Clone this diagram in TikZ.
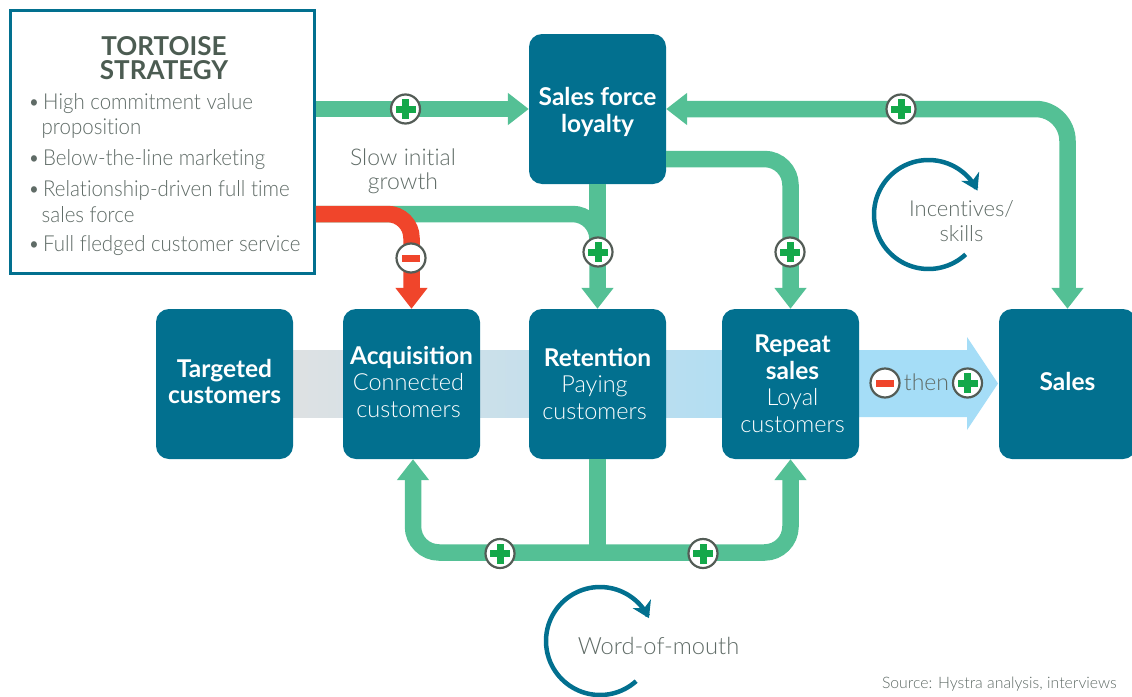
\documentclass[tikz,border=0pt]{standalone}
\usepackage{fontspec}
\setmainfont{Lato}
\newfontfamily\lightf[Ligatures=NoCommon]{Lato Light}
\newfontfamily\narrowf[Ligatures=NoCommon,FakeStretch=0.93]{Lato Light}
\usetikzlibrary{arrows.meta,shadings}
\definecolor{teal}{HTML}{02708F}
\definecolor{grn}{HTML}{54C095}
\definecolor{redc}{HTML}{F0452B}
\definecolor{plusc}{HTML}{14A84A}
\definecolor{ringc}{HTML}{535C56}
\definecolor{txt}{HTML}{5F6B66}
\definecolor{head}{HTML}{4C5C52}
\definecolor{bandl}{HTML}{DEE1E3}
\definecolor{bandr}{HTML}{A5DDF7}
\tikzset{
 box/.style={draw=none,fill=teal,rounded corners=13pt,minimum width=137pt,minimum height=150pt,inner sep=0pt,text=white,font=\fontsize{24.5}{26.5}\selectfont},
 flow/.style={line width=16.5pt,grn,rounded corners=26pt,-{Triangle[width=31pt,length=21pt]}},
 flowboth/.style={line width=16.5pt,grn,rounded corners=32pt,{Triangle[width=31pt,length=21pt]}-{Triangle[width=31pt,length=21pt]}},
 flowred/.style={line width=16.5pt,redc,rounded corners=24pt,-{Triangle[width=31pt,length=21pt]}},
 flowplain/.style={line width=16.5pt,grn},
 badge/.style={circle,draw=ringc,fill=white,line width=2.2pt,minimum size=29pt,inner sep=0pt},
 plusb/.style={badge,path picture={
   \fill[plusc] ([xshift=-10pt,yshift=-3.5pt]path picture bounding box.center) rectangle ([xshift=10pt,yshift=3.5pt]path picture bounding box.center);
   \fill[plusc] ([xshift=-3.5pt,yshift=-10pt]path picture bounding box.center) rectangle ([xshift=3.5pt,yshift=10pt]path picture bounding box.center);}},
 minusb/.style={badge,path picture={
   \fill[redc] ([xshift=-9pt,yshift=-3.5pt]path picture bounding box.center) rectangle ([xshift=9pt,yshift=3.5pt]path picture bounding box.center);}},
 lbl/.style={text=txt,align=center,inner sep=0pt,font=\lightf\fontsize{23}{24}\selectfont},
 bullet/.style={text=txt,align=left,anchor=west,inner sep=0pt,font=\narrowf\fontsize{22}{25.5}\selectfont},
 loopar/.style={teal,line width=4.5pt,-{Stealth[length=16pt,width=20pt,inset=5pt]}}
}
\newcommand{\bodyt}[1]{{\lightf\fontsize{23.5}{26.5}\selectfont #1}}
\newcommand{\bt}[3]{\raisebox{\dimexpr#2pt-6pt\relax}[0pt][0pt]{\makebox[0pt]{\hspace*{\dimexpr2\dimexpr#1pt\relax\relax}\parbox{137pt}{\centering #3}}}}
\newcommand{\dotb}{\makebox[15pt][l]{•}}
\begin{document}
\begin{tikzpicture}[x=1pt,y=-1pt]
\useasboundingbox (0,0) rectangle (1132,696);
% band
\fill[left color=bandl,right color=bandr] (293,350) rectangle (859,417);
\fill[bandr] (859,350) -- (967,350) -- (967,337) -- (998,383.5) -- (967,430) -- (967,417) -- (859,417) -- cycle;
% strategy box
\node[draw=teal,line width=2.5pt,fill=white,minimum width=304pt,minimum height=263pt,inner sep=0pt] (strat) at (162.5,142) {};
\node[text=head,align=center,inner sep=0pt,font=\bfseries\fontsize{26}{24.5}\selectfont] (title) at (164,58) {TORTOISE\\STRATEGY};
\node[bullet] (b1) at (28,116) {\dotb High commitment value\\\hspace*{13.5pt}proposition};
\node[bullet] (b2) at (28,160) {\dotb Below-the-line marketing};
\node[bullet] (b3) at (28,201.5) {\dotb Relationship-driven full time\\\hspace*{13.5pt}sales force};
\node[bullet] (b4) at (28,246) {\dotb Full fledged customer service};
% boxes
\node[box] (sfl) at (597.5,109) {\bt{0}{-3}{\textbf{Sales force}\\\textbf{loyalty}}};
\node[box] (tc) at (224.5,384) {\bt{0}{2.5}{\textbf{Targeted}\\\textbf{customers}}};
\node[box] (acq) at (411.5,384) {\bt{0}{2}{\textbf{Acquisition}\\\hspace*{-6pt}\bodyt{Connected}\\\hspace*{-6pt}\bodyt{customers}}};
\node[box] (ret) at (597.5,384) {\bt{0}{0}{\textbf{Retention}\\\hspace*{-6pt}\bodyt{Paying}\\\hspace*{-6pt}\bodyt{customers}}};
\node[box] (rep) at (790.5,384) {\bt{2}{0}{\textbf{Repeat}\\\textbf{sales}\\\bodyt{Loyal}\\\bodyt{customers}}};
\node[box] (sales) at (1067.5,384) {\bt{0}{2.5}{\textbf{Sales}}};
% connectors
\draw[flow] ([yshift=33pt]strat.east) -- ([yshift=33pt]strat.east -| sfl.west);
\draw[flowboth] (sfl.east) -- (sfl.east -| sales.north) -- (sales.north);
\draw[flow] ([yshift=-50pt]sfl.east) -| (rep.north);
\draw[flowplain] (sfl.south) -- (ret.north |- 0,240);
\draw[flow,rounded corners=25pt] ([yshift=-72pt]strat.east) -| (ret.north);
\draw[flowred] ([yshift=-72pt]strat.east) -| (acq.north);
\coordinate (junc) at (ret.south |- 0,552.5);
\draw[flowplain] (ret.south) -- (junc);
\draw[flowboth,rounded corners=26pt] ([xshift=1.5pt]acq.south) |- (junc) -| (rep.south);
% badges
\node[plusb] (p1) at (405.5,109) {};
\node[plusb] (p2) at (901,109) {};
\node[plusb] (p3) at (598,252) {};
\node[plusb] (p4) at (790,252) {};
\node[minusb] (m1) at (411,258) {};
\node[plusb] (p5) at (500,553.5) {};
\node[plusb] (p6) at (703,553.5) {};
\node[minusb] (m2) at (885,383) {};
\node[plusb] (p7) at (967.5,383) {};
% labels
\node[lbl] (slow) at (403,171.5) {Slow initial\\growth};
\node[lbl] (then) at (926.5,382) {then};
\node[lbl,font=\lightf\fontsize{22}{25}\selectfont] (inc) at (961.5,221) {Incentives/\\skills};
\node[lbl,font=\lightf\fontsize{23.7}{25}\selectfont] (wom) at (658.5,646) {Word-of-mouth};
\node[text=txt,anchor=east,inner sep=0pt,font=\lightf\fontsize{15.8}{18}\selectfont] (src) at (1117,684) {Source: Hystra analysis, interviews};
% loops
\draw[loopar] plot[domain=-47:-334,samples=80,smooth] ({928.5+54.5*cos(\x)},{214.5-54.5*sin(\x)});
\draw[loopar] plot[domain=-48:-335,samples=80,smooth] ({600+54*cos(\x)},{641-54*sin(\x)});
\end{tikzpicture}
\end{document}
